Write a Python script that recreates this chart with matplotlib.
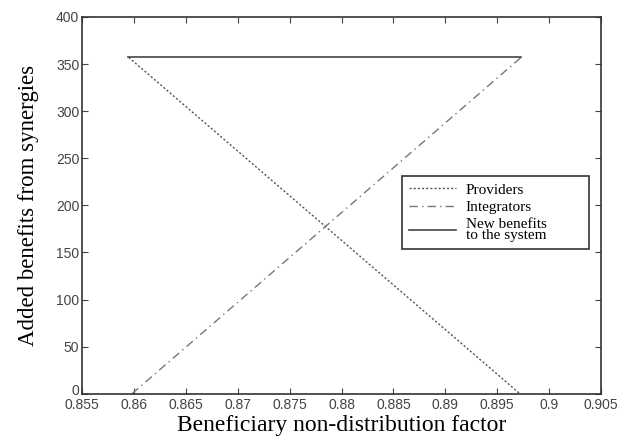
import matplotlib as mpl
mpl.use("Agg")
import matplotlib.pyplot as plt
import matplotlib.transforms as mtransforms
import numpy as np

# values
providers_x = [0.8595, 0.8972]
providers_y = [357, 0]
integrators_x = [0.8598, 0.8973]
integrators_y = [0, 357]
system_x = [0.8594, 0.8973]
system_y = [357, 357]

XTICKS = [0.855, 0.86, 0.865, 0.87, 0.875, 0.88, 0.885, 0.89, 0.895, 0.9, 0.905]
XTICK_LABELS = ["0.855", "0.86", "0.865", "0.87", "0.875", "0.88", "0.885",
                "0.89", "0.895", "0.9", "0.905"]
YTICKS = [0, 50, 100, 150, 200, 250, 300, 350, 400]

SERIF = "Liberation Serif"
SANS = "Liberation Sans"

fig = plt.figure(figsize=(6.17, 4.45), dpi=100)
ax = fig.add_axes((0.133, 0.115, 0.841, 0.847))

ax.plot(providers_x, providers_y, color="#555555", lw=1.0, ls=(0, (1.5, 1.5)),
        label="Providers")
ax.plot(integrators_x, integrators_y, color="#777777", lw=1.0,
        ls=(0, (6, 3, 1, 3)), label="Integrators")
ax.plot(system_x, system_y, color="#444444", lw=1.2,
        label="New benefits\nto the system")

ax.set_xlim(0.855, 0.905)
ax.set_ylim(0, 400)
ax.set_xticks(XTICKS)
ax.set_xticklabels(XTICK_LABELS)
ax.set_yticks(YTICKS)

for lab in ax.get_xticklabels() + ax.get_yticklabels():
    lab.set_family(SANS)
    lab.set_fontsize(10)
    lab.set_color("#444444")

ax.tick_params(direction="in", top=True, right=True, length=4,
               color="#444444", pad=2)
ax.tick_params(axis="x", pad=3)

# the "0" on the y axis sits a little higher than the x tick labels
zero = ax.get_yticklabels()[0]
zero.set_transform(zero.get_transform() +
                   mtransforms.ScaledTranslation(0, 4 / 100, fig.dpi_scale_trans))

for sp in ax.spines.values():
    sp.set_color("#333333")
    sp.set_linewidth(1.2)

ax.set_xlabel("Beneficiary non-distribution factor", family=SERIF,
              fontsize=17, labelpad=2)
ax.set_ylabel("Added benefits from synergies", family=SERIF, fontsize=16.5,
              labelpad=12)

leg = ax.legend(loc="upper left", bbox_to_anchor=(0.617, 0.578, 0.36, 0.0),
                mode="expand",
                prop={"family": SERIF, "size": 11}, fancybox=False,
                edgecolor="#333333", framealpha=1, handlelength=3.1,
                handletextpad=0.6, labelspacing=0.25, borderpad=0.45,
                borderaxespad=0)
leg.get_frame().set_linewidth(1.2)
leg.get_texts()[2].set_linespacing(0.85)

fig.savefig("out.png", dpi=100)
